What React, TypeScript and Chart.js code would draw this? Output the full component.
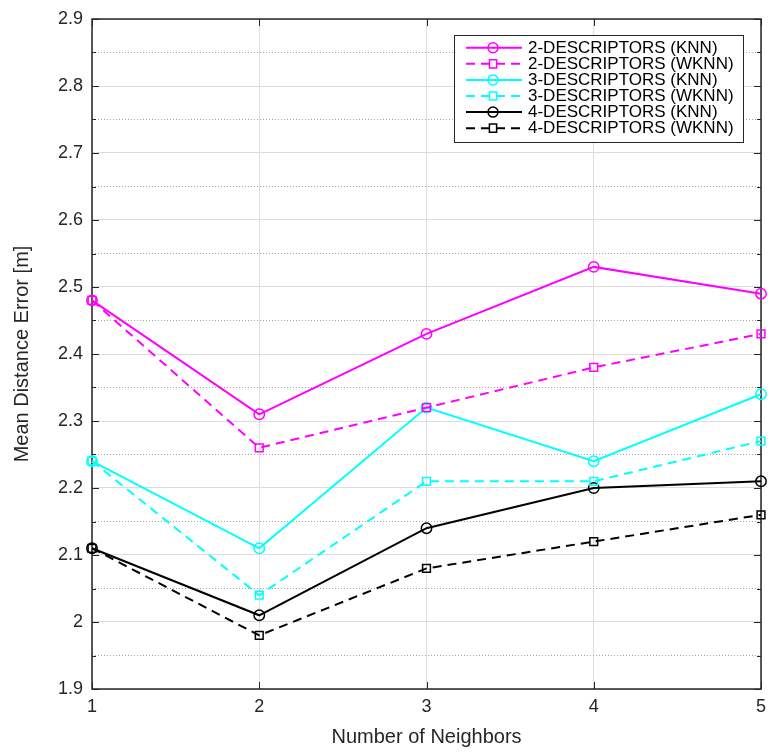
import React, { useEffect, useRef } from "react";
import { Chart, registerables } from "chart.js";

Chart.register(...registerables);

const categories = ["1", "2", "3", "4", "5"];
const seriesLabels = [
  "2-DESCRIPTORS (KNN)",
  "2-DESCRIPTORS (WKNN)",
  "3-DESCRIPTORS (KNN)",
  "3-DESCRIPTORS (WKNN)",
  "4-DESCRIPTORS (KNN)",
  "4-DESCRIPTORS (WKNN)",
];
const knn2 = [2.48, 2.31, 2.43, 2.53, 2.49];
const wknn2 = [2.48, 2.26, 2.32, 2.38, 2.43];
const knn3 = [2.24, 2.11, 2.32, 2.24, 2.34];
const wknn3 = [2.24, 2.04, 2.21, 2.21, 2.27];
const knn4 = [2.11, 2.01, 2.14, 2.2, 2.21];
const wknn4 = [2.11, 1.98, 2.08, 2.12, 2.16];
const seriesValues = [knn2, wknn2, knn3, wknn3, knn4, wknn4];
const seriesColors = ["#ff00ff", "#ff00ff", "#00ffff", "#00ffff", "#000000", "#000000"];
const seriesDashed = [false, true, false, true, false, true];

const xTitle = "Number of Neighbors";
const yTitle = "Mean Distance Error [m]";
const yMin = 1.9;
const yMax = 2.9;
const yStep = 0.05;

const FONT = "'Liberation Sans', Arial, Helvetica, sans-serif";
const AXIS_COLOR = "#262626";

const isMajor = (v: number | undefined) =>
  v !== undefined && Math.abs(v * 10 - Math.round(v * 10)) < 1e-6;

const framePlugin = {
  id: "matlabFrame",
  beforeDatasetsDraw(chart: any) {
    const { ctx, chartArea } = chart;
    const { left, right, top, bottom } = chartArea;
    const xs = chart.scales.x;
    const ys = chart.scales.y;
    ctx.save();
    ctx.strokeStyle = AXIS_COLOR;
    ctx.lineWidth = 1;
    ys.ticks.forEach((t: any) => {
      const py = Math.round(ys.getPixelForValue(t.value)) + 0.5;
      const len = isMajor(t.value) ? 7 : 4;
      ctx.beginPath();
      ctx.moveTo(left, py);
      ctx.lineTo(left + len, py);
      ctx.moveTo(right, py);
      ctx.lineTo(right - len, py);
      ctx.stroke();
    });
    xs.ticks.forEach((_t: any, i: number) => {
      const px = Math.round(xs.getPixelForTick(i)) + 0.5;
      ctx.beginPath();
      ctx.moveTo(px, bottom);
      ctx.lineTo(px, bottom - 7);
      ctx.moveTo(px, top);
      ctx.lineTo(px, top + 7);
      ctx.stroke();
    });
    ctx.lineWidth = 1.5;
    ctx.strokeRect(left, top, right - left, bottom - top);
    ctx.restore();
  },
};

const legendPlugin = {
  id: "matlabLegend",
  afterDraw(chart: any) {
    const { ctx } = chart;
    const bx = 454;
    const by = 35;
    const bw = 289;
    const bh = 107;
    const rowH = 16.1;
    ctx.save();
    ctx.fillStyle = "#ffffff";
    ctx.fillRect(bx, by, bw, bh);
    ctx.strokeStyle = AXIS_COLOR;
    ctx.lineWidth = 1;
    ctx.strokeRect(bx + 0.5, by + 0.5, bw, bh);
    chart.data.datasets.forEach((ds: any, i: number) => {
      const cy = by + 12.7 + i * rowH;
      ctx.strokeStyle = ds.borderColor;
      ctx.lineWidth = 2;
      ctx.setLineDash(ds.borderDash || []);
      ctx.beginPath();
      ctx.moveTo(466, cy);
      ctx.lineTo(522, cy);
      ctx.stroke();
      ctx.setLineDash([]);
      if (ds.borderDash && ds.borderDash.length) {
        // keep marker gap like MATLAB sample
      }
      ctx.lineWidth = 1.5;
      ctx.beginPath();
      if (ds.pointStyle === "rect") {
        const s = 3.6;
        ctx.fillStyle = "#ffffff";
        ctx.rect(493 - s, cy - s - 0.5, 2 * s, 2 * s + 1);
      } else {
        ctx.arc(493, cy, 5, 0, Math.PI * 2);
      }
      ctx.stroke();
      ctx.fillStyle = "#000000";
      ctx.font = `17px ${FONT}`;
      ctx.textBaseline = "middle";
      ctx.textAlign = "left";
      ctx.fillText(ds.label, 528, cy + 0.5);
    });
    ctx.restore();
  },
};

export default function App() {
  const canvasRef = useRef<HTMLCanvasElement | null>(null);

  useEffect(() => {
    if (!canvasRef.current) return;
    const datasets = seriesValues.map((vals, i) => ({
      label: seriesLabels[i],
      data: vals,
      borderColor: seriesColors[i],
      backgroundColor: "transparent",
      borderWidth: 2,
      borderDash: seriesDashed[i] ? [9, 6] : [],
      pointStyle: seriesDashed[i] ? "rect" : "circle",
      pointRadius: seriesDashed[i] ? 5.5 : 5.2,
      pointBorderWidth: 1.5,
      pointBackgroundColor: "transparent",
      pointBorderColor: seriesColors[i],
      tension: 0,
      clip: false as any,
    }));

    const chart = new Chart(canvasRef.current, {
      type: "line",
      data: { labels: categories, datasets },
      plugins: [framePlugin, legendPlugin],
      options: {
        responsive: false,
        animation: false,
        devicePixelRatio: 1,
        layout: { padding: { top: 19, right: 7, left: 0, bottom: 0 } },
        plugins: {
          legend: { display: false },
          tooltip: { enabled: false },
        },
        scales: {
          x: {
            type: "category",
            offset: false,
            grid: { color: "#dedede", lineWidth: 1, drawTicks: false },
            border: { display: false },
            ticks: {
              color: AXIS_COLOR,
              font: { family: FONT, size: 18 },
              padding: 7,
              maxRotation: 0,
              autoSkip: false,
            },
            title: {
              display: true,
              text: xTitle,
              color: AXIS_COLOR,
              font: { family: FONT, size: 20 },
              padding: { top: 0, bottom: 5 },
            },
            afterFit(scale: any) {
              scale.height = 65;
              scale.paddingLeft = 0;
              scale.paddingRight = 0;
            },
          },
          y: {
            type: "linear",
            min: yMin,
            max: yMax,
            grid: {
              color: (c: any) => (isMajor(c.tick?.value) ? "#dcdcdc" : "#a6a6a6"),
              lineWidth: 1,
              drawTicks: false,
            },
            border: {
              display: false,
              dash: (c: any) => (c.tick && !isMajor(c.tick.value) ? [1, 2] : []),
            },
            ticks: {
              stepSize: yStep,
              autoSkip: false,
              color: AXIS_COLOR,
              font: { family: FONT, size: 18 },
              padding: 9,
              callback: (v: any) => (isMajor(Number(v)) ? String(Math.round(Number(v) * 10) / 10) : ""),
            },
            title: {
              display: true,
              text: yTitle,
              color: AXIS_COLOR,
              font: { family: FONT, size: 20 },
              padding: { top: 10, bottom: 0 },
            },
            afterFit(scale: any) {
              scale.width = 92;
              scale.paddingTop = 0;
              scale.paddingBottom = 0;
            },
          },
        },
      } as any,
    });
    return () => chart.destroy();
  }, []);

  return (
    <div style={{ position: "absolute", left: 0, top: 0, width: 768, height: 754, background: "#fff" }}>
      <canvas ref={canvasRef} width={768} height={754} style={{ display: "block" }} />
    </div>
  );
}
